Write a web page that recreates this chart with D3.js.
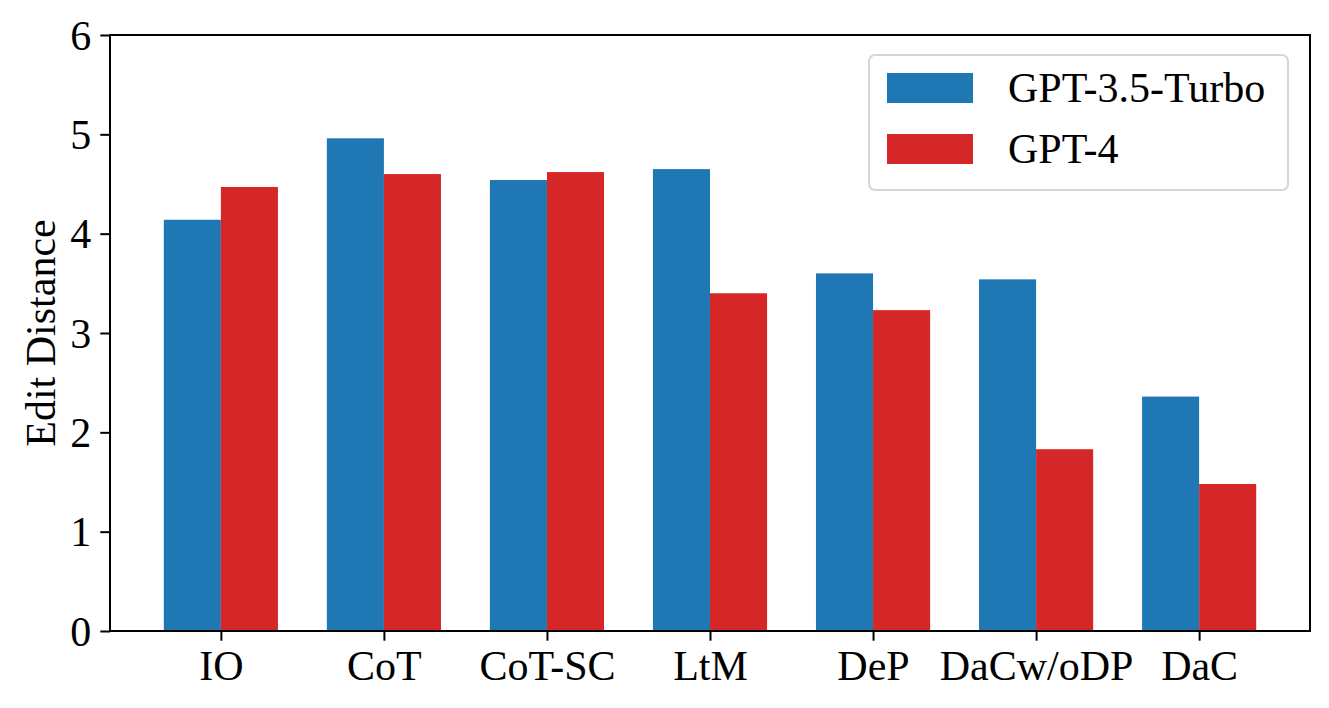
<!DOCTYPE html>
<html>
<head>
<meta charset="utf-8">
<script src="https://cdn.jsdelivr.net/npm/d3@7"></script>
<style>
  body { margin: 0; background: #fff; }
  svg text { font-family: "Liberation Serif", "Times New Roman", serif; }
</style>
</head>
<body>
<div id="chart"></div>
<script>
const categories = ["IO", "CoT", "CoT-SC", "LtM", "DeP", "DaCw/oDP", "DaC"];
const gpt35 = [4.14, 4.96, 4.54, 4.65, 3.60, 3.54, 2.36];
const gpt4 = [4.47, 4.60, 4.62, 3.40, 3.23, 1.83, 1.48];
const seriesNames = ["GPT-3.5-Turbo", "GPT-4"];
const seriesColors = ["#1f77b4", "#d62728"];
const yTicks = [0, 1, 2, 3, 4, 5, 6];

const W = 1329, H = 708;
const margin = { top: 35, right: 19, bottom: 77, left: 110 };
const barW = 0.35;

const svg = d3.select("#chart").append("svg")
    .attr("width", W)
    .attr("height", H);

const x = d3.scaleLinear()
    .domain([-0.68, categories.length - 1 + 0.68])
    .range([margin.left, W - margin.right]);

const y = d3.scaleLinear()
    .domain([0, 6])
    .range([H - margin.bottom, margin.top]);

// bars
const series = [gpt35, gpt4];
series.forEach((vals, s) => {
    const off = s === 0 ? -barW : 0;
    svg.append("g")
        .selectAll("rect")
        .data(vals)
        .enter()
        .append("rect")
        .attr("x", (d, i) => x(i + off))
        .attr("y", d => y(d))
        .attr("width", x(barW) - x(0))
        .attr("height", d => y(0) - y(d))
        .attr("fill", seriesColors[s]);
});

// axes
const xAxis = d3.axisBottom(x)
    .tickValues(d3.range(categories.length))
    .tickFormat(i => categories[i])
    .tickSizeInner(9.7)
    .tickSizeOuter(0)
    .tickPadding(9);

const gx = svg.append("g")
    .attr("transform", `translate(0,${H - margin.bottom})`)
    .call(xAxis);

const yAxis = d3.axisLeft(y)
    .tickValues(yTicks)
    .tickFormat(d3.format("d"))
    .tickSizeInner(9.7)
    .tickSizeOuter(0)
    .tickPadding(9);

const gy = svg.append("g")
    .attr("transform", `translate(${margin.left},0)`)
    .call(yAxis);

[gx, gy].forEach(g => {
    g.select(".domain").remove();
    g.selectAll(".tick line").attr("stroke", "#000").attr("stroke-width", 2);
    g.selectAll(".tick text")
        .attr("fill", "#000")
        .style("font-size", "42px");
});
gx.selectAll(".tick text").attr("dy", "0.72em");
gy.selectAll(".tick text").attr("dy", "0.34em");

// frame
svg.append("rect")
    .attr("x", margin.left)
    .attr("y", margin.top)
    .attr("width", W - margin.left - margin.right)
    .attr("height", H - margin.top - margin.bottom)
    .attr("fill", "none")
    .attr("stroke", "#000")
    .attr("stroke-width", 2);

// y label
svg.append("text")
    .attr("transform", `translate(55,${(margin.top + H - margin.bottom) / 2}) rotate(-90)`)
    .attr("text-anchor", "middle")
    .style("font-size", "42px")
    .text("Edit Distance");

// legend
const legend = svg.append("g");
legend.append("rect")
    .attr("x", 869)
    .attr("y", 55)
    .attr("width", 419)
    .attr("height", 135)
    .attr("rx", 6)
    .attr("fill", "#fff")
    .attr("fill-opacity", 0.8)
    .attr("stroke", "#d6d6d6")
    .attr("stroke-width", 2);

seriesNames.forEach((name, i) => {
    const ly = 73 + i * 61;
    legend.append("rect")
        .attr("x", 887)
        .attr("y", ly)
        .attr("width", 86)
        .attr("height", 30)
        .attr("fill", seriesColors[i]);
    legend.append("text")
        .attr("x", 1008)
        .attr("y", ly + 15)
        .attr("dy", "0.34em")
        .style("font-size", "42px")
        .text(name);
});
</script>
</body>
</html>
